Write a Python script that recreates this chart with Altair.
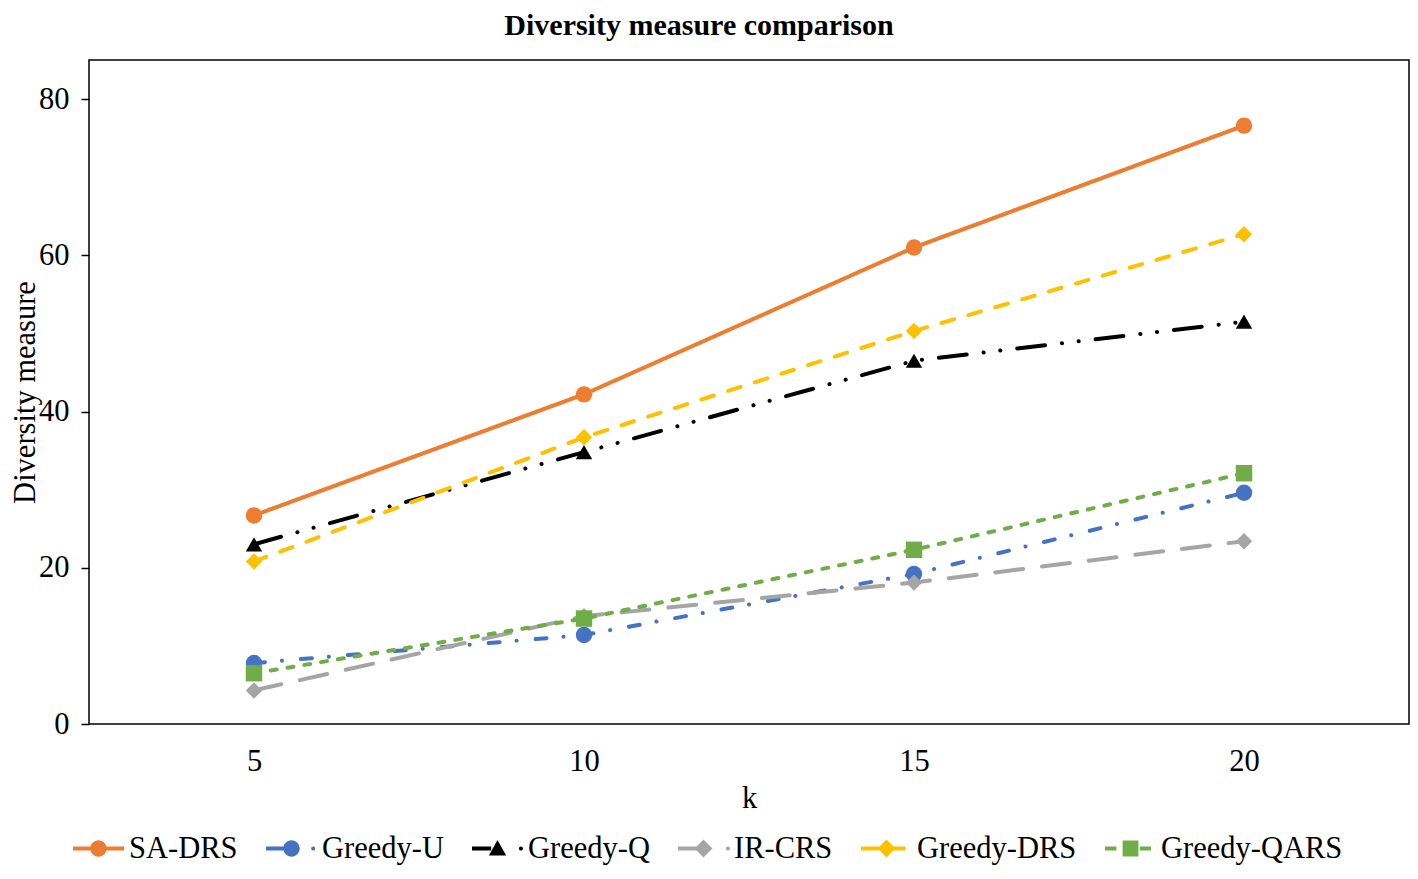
import altair as alt
import pandas as pd

k_vals = ["5", "10", "15", "20"]
series = ["SA-DRS", "Greedy-U", "Greedy-Q", "IR-CRS", "Greedy-DRS", "Greedy-QARS"]
sa_drs = [26.7, 42.2, 61.0, 76.6]
greedy_u = [7.8, 11.4, 19.2, 29.6]
greedy_q = [23.0, 34.8, 46.5, 51.5]
ir_crs = [4.3, 13.8, 18.1, 23.4]
greedy_drs = [20.8, 36.7, 50.3, 62.7]
greedy_qars = [6.5, 13.5, 22.3, 32.1]

colors = ["#ED7D31", "#4472C4", "#000000", "#A5A5A5", "#FFC000", "#70AD47"]
dashes = [[1, 0], [11, 17, 0.1, 19], [28, 17, 0.1, 16.7, 0.1, 17], [28, 19], [13, 15], [6, 11]]
markers = ["circle", "circle", "triangle-up", "diamond", "diamond", "square"]

rows = []
for name, vals in zip(series, [sa_drs, greedy_u, greedy_q, ir_crs, greedy_drs, greedy_qars]):
    for kk, v in zip(k_vals, vals):
        rows.append({"k": kk, "value": v, "series": name})
df = pd.DataFrame(rows)


# legend symbol paths (line + marker), unit box -1..1
def rect(x0, x1, h=0.08):
    return f"M{x0},{-h} H{x1} V{h} H{x0} Z "


def circ(cx, r):
    return f"M{cx - r},0 A{r},{r} 0 1,1 {cx + r},0 A{r},{r} 0 1,1 {cx - r},0 Z "


tri = "M0,-0.33 L0.34,0.27 L-0.34,0.27 Z "
dia = "M0,-0.35 L0.35,0 L0,0.35 L-0.35,0 Z "
sq = "M-0.31,-0.31 H0.31 V0.31 H-0.31 Z "

legend_paths = [
    rect(-1, 1) + circ(0, 0.32),
    rect(-1, -0.25) + circ(0, 0.32) + circ(0.85, 0.08),
    rect(-1, -0.25) + tri + circ(0.92, 0.08),
    rect(-1, -0.25) + dia + circ(0.96, 0.08),
    rect(-1, -0.25) + dia + rect(0.25, 0.75),
    rect(-1, -0.55) + sq + rect(0.37, 0.8),
]

FONT = "Liberation Serif"
FS = 30.5

x_enc = alt.X(
    "k:N",
    sort=k_vals,
    scale=alt.Scale(domain=k_vals, type="point", padding=0.5),
    axis=alt.Axis(
        title="k", labelAngle=0, ticks=False, tickSize=0, domain=False, grid=False,
        labelPadding=22, titlePadding=7, labelFontSize=FS, titleFontSize=FS,
        titleFontWeight="normal", labelColor="#000", titleColor="#000",
        labelFont=FONT, titleFont=FONT,
    ),
)
y_enc = alt.Y(
    "value:Q",
    scale=alt.Scale(domain=[0, 85], nice=False, zero=True),
    axis=alt.Axis(
        title="Diversity measure", values=[0, 20, 40, 60, 80], tickSize=8,
        tickColor="#000", tickWidth=1.5, domain=False, grid=False,
        labelPadding=12, titleX=-79, titleBaseline="top", labelFontSize=FS, titleFontSize=FS,
        titleFontWeight="normal", labelColor="#000", titleColor="#000",
        labelFont=FONT, titleFont=FONT,
    ),
)

color_scale = alt.Scale(domain=series, range=colors)

lines = alt.Chart(df).mark_line(strokeWidth=4, strokeCap="round", strokeJoin="round").encode(
    x=x_enc,
    y=y_enc,
    color=alt.Color("series:N", scale=color_scale, legend=None),
    strokeDash=alt.StrokeDash("series:N", scale=alt.Scale(domain=series, range=dashes), legend=None),
)

points = alt.Chart(df).mark_point(filled=True, opacity=1, size=270).encode(
    x=alt.X("k:N", sort=k_vals),
    y="value:Q",
    color=alt.Color("series:N", scale=color_scale, legend=None),
    shape=alt.Shape("series:N", scale=alt.Scale(domain=series, range=markers), legend=None),
)

leg = alt.Legend(
    title=None, orient="none", direction="horizontal", legendX=-16, legendY=763,
    symbolSize=2601, symbolStrokeWidth=0, symbolOpacity=1, labelFontSize=FS,
    labelFont=FONT, labelColor="#000", labelOffset=5, columnPadding=28,
    labelLimit=500, padding=0, labelBaseline="middle",
)

legend_layer = alt.Chart(df).mark_point(filled=True, opacity=0).encode(
    x=alt.X("k:N", sort=k_vals),
    y="value:Q",
    color=alt.Color("series:N", scale=color_scale, legend=leg),
    shape=alt.Shape("series:N", scale=alt.Scale(domain=series, range=legend_paths), legend=leg),
)

chart = (
    alt.layer(lines, points, legend_layer)
    .resolve_scale(shape="independent", color="independent", strokeDash="independent")
    .properties(
        width=1320,
        height=664,
        autosize="none",
        padding={"left": 81, "top": 52, "right": 1, "bottom": 142},
        title=alt.TitleParams(
            "Diversity measure comparison", font=FONT, fontSize=30, fontWeight="bold",
            color="#000", anchor="middle", frame="group", dx=-50, baseline="alphabetic", offset=-5,
        ),
    )
    .configure(font=FONT, background="white")
    .configure_view(stroke="#000", strokeWidth=1.5)
)

chart.save("out.html", embed_options={"renderer": "svg", "actions": False})
